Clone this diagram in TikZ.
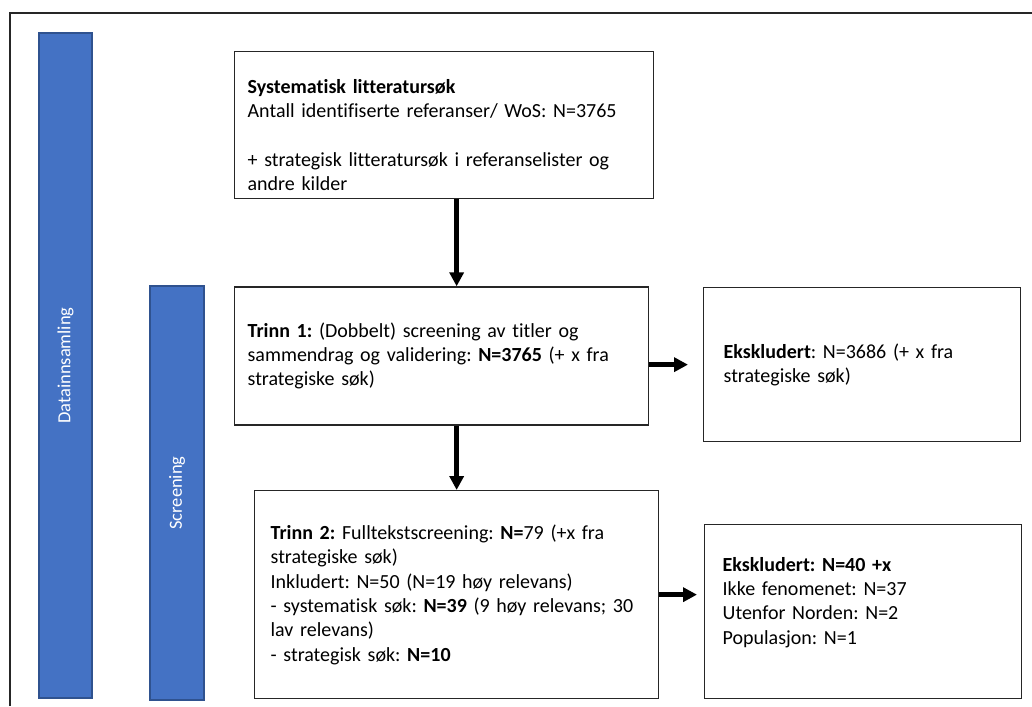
\documentclass[tikz,border=0pt]{standalone}
\usepackage{fontspec}
\setmainfont{Carlito}[Ligatures={NoCommon}]
\usepackage{tikz}
\usetikzlibrary{arrows.meta,positioning}
\definecolor{phaseblue}{HTML}{4472C4}
\definecolor{phaseedge}{HTML}{2F528F}
\definecolor{boxink}{HTML}{262626}
\frenchspacing

\begin{document}
\begin{tikzpicture}[
  x=1pt, y=-1pt,
  font=\fontsize{20}{24.4}\selectfont,
  phase/.style={draw=phaseedge, fill=phaseblue, line width=1.5pt, rotate=90,
    text=white, inner sep=0pt, font=\fontsize{18.5}{22}\selectfont},
  stage/.style={draw=boxink, line width=1.3pt, align=left, inner ysep=0pt,
    text=black, anchor=north west},
  flow/.style={-{Triangle[length=14pt,width=14pt]}, line width=4.5pt, draw=black}
]
  \useasboundingbox (0,0) rectangle (1032,706);
  \draw[line width=2pt, draw=black!85] (10,706) -- (10,13) -- (1032,13);

  % phases along the left edge
  \node[phase, minimum width=665pt, minimum height=53pt] (collect) at (65.5,365.5) {Datainnsamling};
  \node[phase, minimum width=414pt, minimum height=54pt] (screen) at (177,493) {Screening};

  % flow boxes
  \node[stage, inner xsep=13pt, text width=393pt, minimum height=147pt] (search) at (234,51)
    {\rule{0pt}{34pt}\textbf{Systematisk litteratursøk}\\
     Antall identifiserte referanser/ WoS: N=3765\\[24.4pt]
     + strategisk litteratursøk i referanselister og\\
     andre kilder};
  \node[stage, inner xsep=13pt, text width=388pt, minimum height=138pt,
    below right=87pt and 0pt of search.south west] (trinn1)
    {\textbf{Trinn 1:} (Dobbelt) screening av titler og\\
     sammendrag og validering: \textbf{N=3765} (+ x fra\\
     strategiske søk)};
  \node[stage, inner xsep=20pt, text width=277pt, minimum height=154pt] (eks1) at (703,287)
    {\textbf{Ekskludert}: N=3686 (+ x fra\\
     strategiske søk)};
  \node[stage, inner xsep=16pt, text width=372pt, minimum height=208pt] (trinn2) at (254,490)
    {\textbf{Trinn 2:} Fulltekstscreening: \textbf{N=}79 (+x fra\\
     strategiske søk)\\
     Inkludert: N=50 (N=19 høy relevans)\\
     - systematisk søk: \textbf{N=39} (9 høy relevans; 30\\
     lav relevans)\\
     - strategisk søk: \textbf{N=10}};
  \node[stage, inner xsep=18pt, text width=281pt, minimum height=174pt] (eks2) at (704,524)
    {\textbf{Ekskludert: N=40 +x}\\
     Ikke fenomenet: N=37\\
     Utenfor Norden: N=2\\
     Populasjon: N=1\rule[-22pt]{0pt}{22pt}};

  \draw[flow] (search.south -| trinn2.north) -- (trinn1.north -| trinn2.north);
  \draw[flow] (trinn1.south -| trinn2.north) -- (trinn2.north);
  \draw[flow, shorten >=15pt] (trinn1.east |- eks1.west) -- (eks1.west);
  \draw[flow, shorten >=7pt] (trinn2.east) -- (trinn2.east -| eks2.west);
\end{tikzpicture}
\end{document}
